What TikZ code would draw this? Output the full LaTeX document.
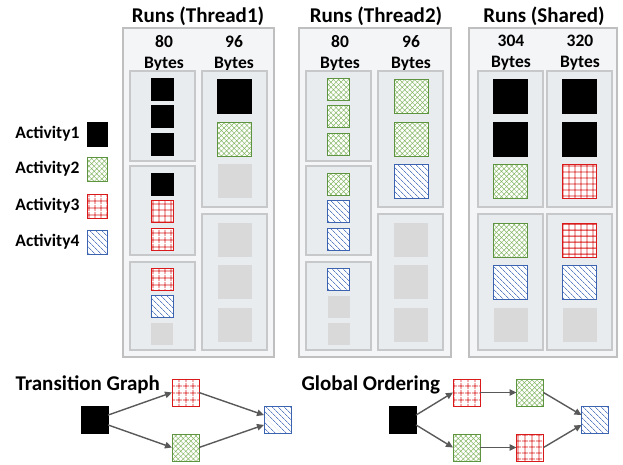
\documentclass[tikz,border=0pt]{standalone}
\usepackage{fontspec}
\setmainfont{Carlito}
\usetikzlibrary{patterns.meta,arrows.meta,calc}

\definecolor{panelline}{HTML}{BFBFBF}
\definecolor{panelfill}{HTML}{F4F5F7}
\definecolor{binline}{HTML}{C6C8CA}
\definecolor{binfill}{HTML}{E9ECEF}
\definecolor{freefill}{HTML}{D9D9D9}
\definecolor{greenline}{HTML}{5E9440}
\definecolor{greenhatch}{HTML}{86B866}
\definecolor{redline}{HTML}{DA1A1A}
\definecolor{blueline}{HTML}{3C63B0}
\definecolor{bluehatch}{HTML}{5F80C2}
\definecolor{edgegray}{HTML}{595959}

\begin{document}
\begin{tikzpicture}[x=1pt,y=-1pt,
  panel/.style={draw=panelline, line width=1.6pt, fill=panelfill},
  bin/.style={draw=binline, line width=1.1pt, fill=binfill},
  cell/.style={inner sep=0pt, outer sep=0pt, line width=1pt},
  small/.style={cell, minimum size=22pt},
  big/.style={cell, minimum size=34pt},
  gsq/.style={cell, minimum size=27pt},
  lsq/.style={cell, minimum width=20pt, minimum height=24pt},
  actA/.style={fill=black, draw=black},
  actB/.style={draw=greenline, preaction={fill=white},
    pattern={Hatch[angle=45,distance=3.6pt,line width=0.5pt]}, pattern color=greenhatch},
  actC/.style={draw=redline, preaction={fill=white},
    pattern={Hatch[angle=0,distance=6.4pt,line width=1pt]}, pattern color=redline},
  actD/.style={draw=blueline, preaction={fill=white},
    pattern={Lines[angle=-45,distance=4pt,line width=0.7pt]}, pattern color=bluehatch},
  free/.style={fill=freefill, draw=none},
  title/.style={font=\bfseries\fontsize{21}{25}\selectfont},
  head/.style={font=\bfseries\fontsize{17.5}{21}\selectfont, align=center},
  legend/.style={font=\bfseries\fontsize{17.5}{21}\selectfont, anchor=east},
  edge/.style={draw=edgegray, line width=1.4pt, -{Triangle[length=7pt,width=6.5pt]}}
]
\useasboundingbox (0,0) rectangle (623,464);

% ---------- panels ----------
\draw[panel] (123,28) rectangle (274,357);
\draw[panel] (299,28) rectangle (451,357);
\draw[panel] (469,28) rectangle (617,357);

\node[title] (t1) at (198,16) {Runs (Thread1)};
\node[title] (t2) at (376,16) {Runs (Thread2)};
\node[title] (t3) at (544,16) {Runs (Shared)};

\node[head] (h1) at (164,53) {80\\Bytes};
\node[head] (h2) at (234,53) {96\\Bytes};
\node[head] (h3) at (340,53) {80\\Bytes};
\node[head] (h4) at (411,53) {96\\Bytes};
\node[head] (h5) at (511,53) {304\\Bytes};
\node[head] (h6) at (580,53) {320\\Bytes};

% ---------- bins ----------
\foreach \x in {130,306}{
  \draw[bin] (\x,71) rectangle ++(65,90);
  \draw[bin] (\x,166) rectangle ++(65,89);
  \draw[bin] (\x,262) rectangle ++(65,88);
}
\foreach \x in {202,378,478,547}{
  \draw[bin] (\x,71) rectangle ++(65,136);
  \draw[bin] (\x,214) rectangle ++(65,136);
}

% ---------- slots ----------
\foreach \y/\k [count=\i] in {89/actA,116.5/actA,144/actA,184/actA,211.5/actC,239/actC,279/actC,306.5/actD,334/free}
  \node[small,\k] (ta\i) at (162,\y) {};
\foreach \y/\k [count=\i] in {96.5/actA,139/actB,181/free,240/free,282/free,324.5/free}
  \node[big,\k] (tb\i) at (234.5,\y) {};
\foreach \y/\k [count=\i] in {89/actB,116.5/actB,144/actB,184/actB,211.5/actD,239/actD,279/actD,306.5/free,334/free}
  \node[small,\k] (ua\i) at (338.5,\y) {};
\foreach \y/\k [count=\i] in {96.5/actB,139/actB,181/actD,240/free,282/free,324.5/free}
  \node[big,\k] (ub\i) at (411,\y) {};
\foreach \y/\k [count=\i] in {96.5/actA,139/actA,181/actB,240/actB,282/actD,324.5/free}
  \node[big,\k] (sa\i) at (510.5,\y) {};
\foreach \y/\k [count=\i] in {96.5/actA,139/actA,181/actC,240/actC,282/actD,324.5/free}
  \node[big,\k] (sb\i) at (579.5,\y) {};

% ---------- legend ----------
\foreach \y/\k [count=\i] in {134/actA,169/actB,206/actC,242/actD}{
  \node[lsq,\k] (key\i) at (97,\y) {};
  \node[legend] (keytext\i) at (83,\y) {Activity\i};
}

% ---------- transition graph ----------
\node[font=\bfseries\fontsize{21}{25}\selectfont, anchor=west] (tgl) at (12,385) {Transition Graph};
\node[gsq,actA] (g1) at (94.5,420) {};
\node[gsq,actC] (g3) at (185.5,392.5) {};
\node[gsq,actB] (g2) at (185.5,447.5) {};
\node[gsq,actD] (g4) at (277.5,420) {};
\draw[edge] (g1.20) -- (g3.west);
\draw[edge] (g1.340) -- (g2.west);
\draw[edge] (g3.east) -- (g4.160);
\draw[edge] (g2.east) -- (g4.200);

% ---------- global ordering ----------
\node[font=\bfseries\fontsize{21}{25}\selectfont, anchor=west] (gol) at (298,385) {Global Ordering};
\node[gsq,actA] (o1) at (402.5,420) {};
\node[gsq,actC] (o2) at (466.5,392.5) {};
\node[gsq,actB] (o3) at (530,392.5) {};
\node[gsq,actB] (o4) at (466.5,447.5) {};
\node[gsq,actC] (o5) at (530,447.5) {};
\node[gsq,actD] (o6) at (595,420) {};
\draw[edge] (o1.20) -- (o2.west);
\draw[edge] (o1.340) -- (o4.west);
\draw[edge] (o2.east) -- (o3.west);
\draw[edge] (o4.east) -- (o5.west);
\draw[edge] (o3.east) -- (o6.160);
\draw[edge] (o5.east) -- (o6.200);
\end{tikzpicture}
\end{document}
